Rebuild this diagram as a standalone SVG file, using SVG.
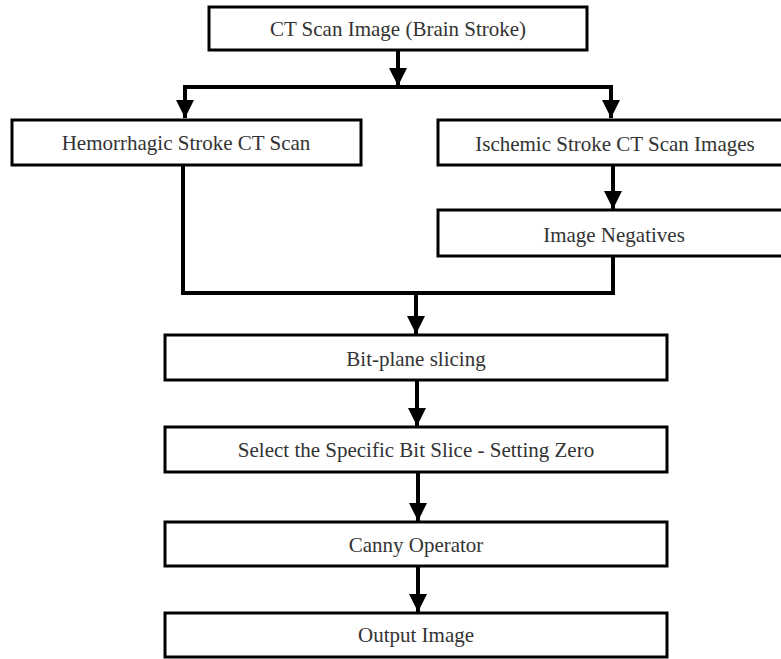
<svg xmlns="http://www.w3.org/2000/svg" width="781" height="659" viewBox="0 0 781 659">
<defs>
<marker id="arr" markerUnits="userSpaceOnUse" markerWidth="18" markerHeight="18" viewBox="0 0 18 18" refX="18" refY="9" orient="auto">
<path d="M0,0 L18,9 L0,18 Z" fill="#000"/>
</marker>
</defs>
<style>
.box{fill:#fff;stroke:#000;stroke-width:3}
.t{font-family:"Liberation Serif","Times New Roman",serif;font-size:21px;fill:#333;text-anchor:middle}
.c{fill:none;stroke:#000;stroke-width:4;stroke-linejoin:miter}
</style>
<rect width="781" height="659" fill="#fff"/>
<g id="connectors">
<path class="c" d="M398,50 V86" marker-end="url(#arr)"/>
<path class="c" d="M185,116 V87 H611 V116" />
<path class="c" d="M185,87 V118" marker-end="url(#arr)"/>
<path class="c" d="M611,87 V118" marker-end="url(#arr)"/>
<path class="c" d="M613,165 V209" marker-end="url(#arr)"/>
<path class="c" d="M183,165 V293 H613 V256"/>
<path class="c" d="M416,293 V334" marker-end="url(#arr)"/>
<path class="c" d="M417,380 V426" marker-end="url(#arr)"/>
<path class="c" d="M418,472 V521" marker-end="url(#arr)"/>
<path class="c" d="M418,566 V612" marker-end="url(#arr)"/>
</g>
<g id="n1"><rect class="box" x="209" y="7" width="378" height="43"/><text class="t" x="398" y="36">CT Scan Image (Brain Stroke)</text></g>
<g id="n2"><rect class="box" x="12" y="120" width="349" height="45"/><text class="t" x="186" y="150">Hemorrhagic Stroke CT Scan</text></g>
<g id="n3"><rect class="box" x="438" y="120" width="354" height="45"/><text class="t" x="615" y="151">Ischemic Stroke CT Scan Images</text></g>
<g id="n4"><rect class="box" x="438" y="210" width="354" height="46"/><text class="t" x="614" y="242">Image Negatives</text></g>
<g id="n5"><rect class="box" x="165" y="335" width="502" height="45"/><text class="t" x="416" y="366">Bit-plane slicing</text></g>
<g id="n6"><rect class="box" x="165" y="427" width="502" height="45"/><text class="t" x="416" y="457">Select the Specific Bit Slice - Setting Zero</text></g>
<g id="n7"><rect class="box" x="165" y="522" width="502" height="44"/><text class="t" x="416" y="552">Canny Operator</text></g>
<g id="n8"><rect class="box" x="165" y="613" width="502" height="44"/><text class="t" x="416" y="642">Output Image</text></g>
</svg>
